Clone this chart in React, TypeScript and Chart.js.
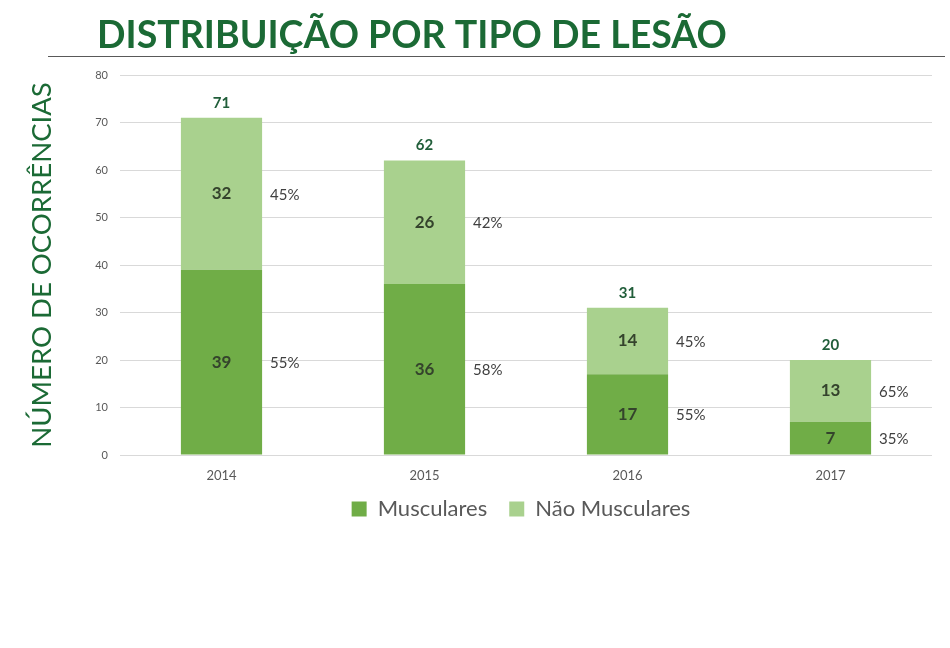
import React, { useEffect, useRef } from "react";
import { Chart, registerables } from "chart.js";

Chart.register(...registerables);

const TITLE = "DISTRIBUIÇÃO POR TIPO DE LESÃO";
const Y_TITLE = "NÚMERO DE OCORRÊNCIAS";
const categories = ["2014", "2015", "2016", "2017"];
const musculares = [39, 36, 17, 7];
const naoMusculares = [32, 26, 14, 13];
const totals = [71, 62, 31, 20];
const pctMusculares = ["55%", "58%", "55%", "35%"];
const pctNaoMusculares = ["45%", "42%", "45%", "65%"];
const seriesNames = ["Musculares", "Não Musculares"];

const FONT = "Lato, 'Open Sans', sans-serif";
const GREEN_DARK = "#1B6A35";

const titlePlugin = {
  id: "customTitle",
  afterDraw(chart: any) {
    const ctx = chart.ctx;
    ctx.save();
    let size = 40;
    ctx.font = `bold ${size}px ${FONT}`;
    const w = ctx.measureText(TITLE).width;
    size = size * (630 / w);
    ctx.font = `bold ${size}px ${FONT}`;
    ctx.fillStyle = GREEN_DARK;
    ctx.textBaseline = "alphabetic";
    ctx.textAlign = "left";
    ctx.fillText(TITLE, 97, 48);
    ctx.strokeStyle = "#595959";
    ctx.lineWidth = 1.2;
    ctx.beginPath();
    ctx.moveTo(48, 56.5);
    ctx.lineTo(945, 56.5);
    ctx.stroke();
    ctx.restore();
  },
};

const legendShiftPlugin = {
  id: "legendShift",
  afterLayout(chart: any) {
    const lg = chart.legend;
    if (!lg) return;
    lg.top -= 9;
    lg.bottom -= 9;
    lg.left += 51;
    lg.right += 51;
    if (lg.legendHitBoxes) {
      lg.legendHitBoxes.forEach((b: any) => {
        b.top -= 9;
        b.left += 51;
      });
    }
  },
};

const labelsPlugin = {
  id: "barLabels",
  afterDatasetsDraw(chart: any) {
    const ctx = chart.ctx;
    ctx.save();
    const pcts = [pctMusculares, pctNaoMusculares];
    chart.data.datasets.forEach((ds: any, di: number) => {
      const meta = chart.getDatasetMeta(di);
      meta.data.forEach((bar: any, i: number) => {
        const { x, y, base, width } = bar.getProps(["x", "y", "base", "width"], true);
        const cy = (y + base) / 2;
        ctx.textBaseline = "middle";
        ctx.textAlign = "center";
        ctx.font = `bold 17px ${FONT}`;
        ctx.fillStyle = "#34432C";
        ctx.fillText(String(ds.data[i]), x, cy);
        ctx.textAlign = "left";
        ctx.font = `15px ${FONT}`;
        ctx.fillStyle = "#404040";
        ctx.fillText(pcts[di][i], x + width / 2 + 8, cy + 1);
        if (di === chart.data.datasets.length - 1) {
          ctx.textAlign = "center";
          ctx.font = `bold 15px ${FONT}`;
          ctx.fillStyle = "#215E3A";
          ctx.fillText(String(totals[i]), x, y - 15);
        }
      });
    });
    ctx.restore();
  },
};

export default function App() {
  const ref = useRef<HTMLCanvasElement>(null);
  useEffect(() => {
    if (!ref.current) return;
    const chart = new Chart(ref.current, {
      type: "bar",
      data: {
        labels: categories,
        datasets: [
          {
            label: seriesNames[0],
            data: musculares,
            backgroundColor: "#70AD47",
            categoryPercentage: 1,
            barPercentage: 0.4,
          },
          {
            label: seriesNames[1],
            data: naoMusculares,
            backgroundColor: "#A9D18E",
            categoryPercentage: 1,
            barPercentage: 0.4,
          },
        ],
      },
      options: {
        responsive: false,
        animation: false,
        layout: { padding: { top: 75, left: 8, right: 18, bottom: 109 } },
        plugins: {
          legend: {
            position: "bottom",
            labels: {
              font: { family: FONT, size: 22 },
              color: "#595959",
              boxWidth: 15,
              boxHeight: 15,
              padding: 22,
            },
          },
          tooltip: { enabled: false },
          title: { display: false },
        },
        scales: {
          x: {
            stacked: true,
            grid: { display: false },
            border: { display: false },
            ticks: { font: { family: FONT, size: 13 }, color: "#595959", padding: 5 },
            afterFit(scale: any) {
              scale.height = 30;
            },
          },
          y: {
            stacked: true,
            min: 0,
            max: 80,
            ticks: { stepSize: 10, font: { family: FONT, size: 11 }, color: "#595959", padding: 12 },
            grid: { color: "#D9D9D9", drawTicks: false },
            border: { display: false },
            title: {
              display: true,
              text: Y_TITLE,
              color: GREEN_DARK,
              font: { family: FONT, size: 27.5 },
              padding: { top: 18, bottom: 0 },
            },
            afterFit(scale: any) {
              scale.width = 112;
            },
          },
        },
      },
      plugins: [titlePlugin, labelsPlugin, legendShiftPlugin],
    });
    return () => chart.destroy();
  }, []);
  return (
    <div style={{ position: "absolute", left: 0, top: 0, width: 950, height: 648, background: "#fff" }}>
      <canvas ref={ref} width={950} height={648} />
    </div>
  );
}
